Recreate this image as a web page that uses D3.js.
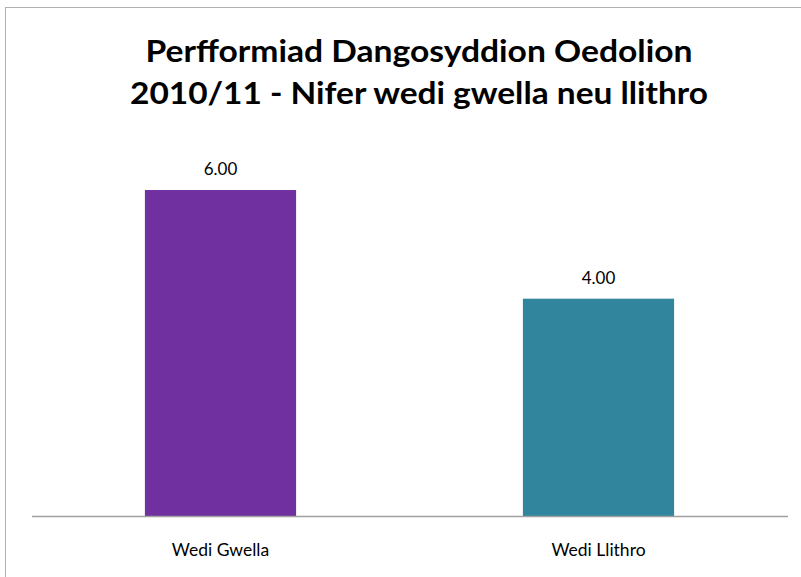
<!DOCTYPE html>
<html><head><meta charset="utf-8">
<script src="https://cdn.jsdelivr.net/npm/d3@7"></script>
<style>body{margin:0;background:#fff}svg{display:block}</style>
</head><body>
<script>
const categories = ["Wedi Gwella", "Wedi Llithro"];
const values = [6, 4];
const colors = ["#7030A0", "#31859C"];
const titleLines = ["Perfformiad Dangosyddion Oedolion", "2010/11 - Nifer wedi gwella neu llithro"];

const W = 801, H = 577;
const svg = d3.select("body").append("svg").attr("width", W).attr("height", H);
svg.append("rect").attr("width", W).attr("height", H).attr("fill", "#fff");
svg.append("rect").attr("x", 5.5).attr("y", 7.5).attr("width", 900).attr("height", 700)
  .attr("fill", "none").attr("stroke", "#b0b0b0").attr("stroke-width", 1);

const font = "Lato, 'Open Sans', sans-serif";
const titleWidths = [547, 578];
svg.selectAll("text.title").data(titleLines).join("text")
  .attr("x", 419).attr("y", (d, i) => 62 + i * 42)
  .attr("text-anchor", "middle").attr("font-family", font).attr("font-weight", "bold")
  .attr("font-size", 31).attr("fill", "#000")
  .attr("textLength", (d, i) => titleWidths[i]).attr("lengthAdjust", "spacingAndGlyphs")
  .text(d => d);

const x = d3.scaleBand().domain(categories).range([31.5, 787.5]).paddingInner(0.6).paddingOuter(0.3);
const y = d3.scaleLinear().domain([0, 7]).range([516, 135.7]);

svg.selectAll("rect.bar").data(values).join("rect")
  .attr("x", (d, i) => x(categories[i])).attr("width", x.bandwidth())
  .attr("y", d => y(d)).attr("height", d => y(0) - y(d))
  .attr("fill", (d, i) => colors[i]);

svg.selectAll("text.val").data(values).join("text")
  .attr("x", (d, i) => x(categories[i]) + x.bandwidth() / 2)
  .attr("y", d => y(d) - 15).attr("text-anchor", "middle")
  .attr("font-family", font).attr("font-size", 17).attr("fill", "#000")
  .text(d => d3.format(".2f")(d));

const ax = svg.append("g").attr("transform", `translate(0,${y(0)})`)
  .call(d3.axisBottom(x).tickSize(0).tickPadding(28));
ax.select(".domain").attr("stroke", "#a0a0a0").attr("stroke-width", 1.5);
ax.selectAll("text").attr("font-family", font).attr("font-size", 17.5).attr("fill", "#000");
</script>
</body></html>
